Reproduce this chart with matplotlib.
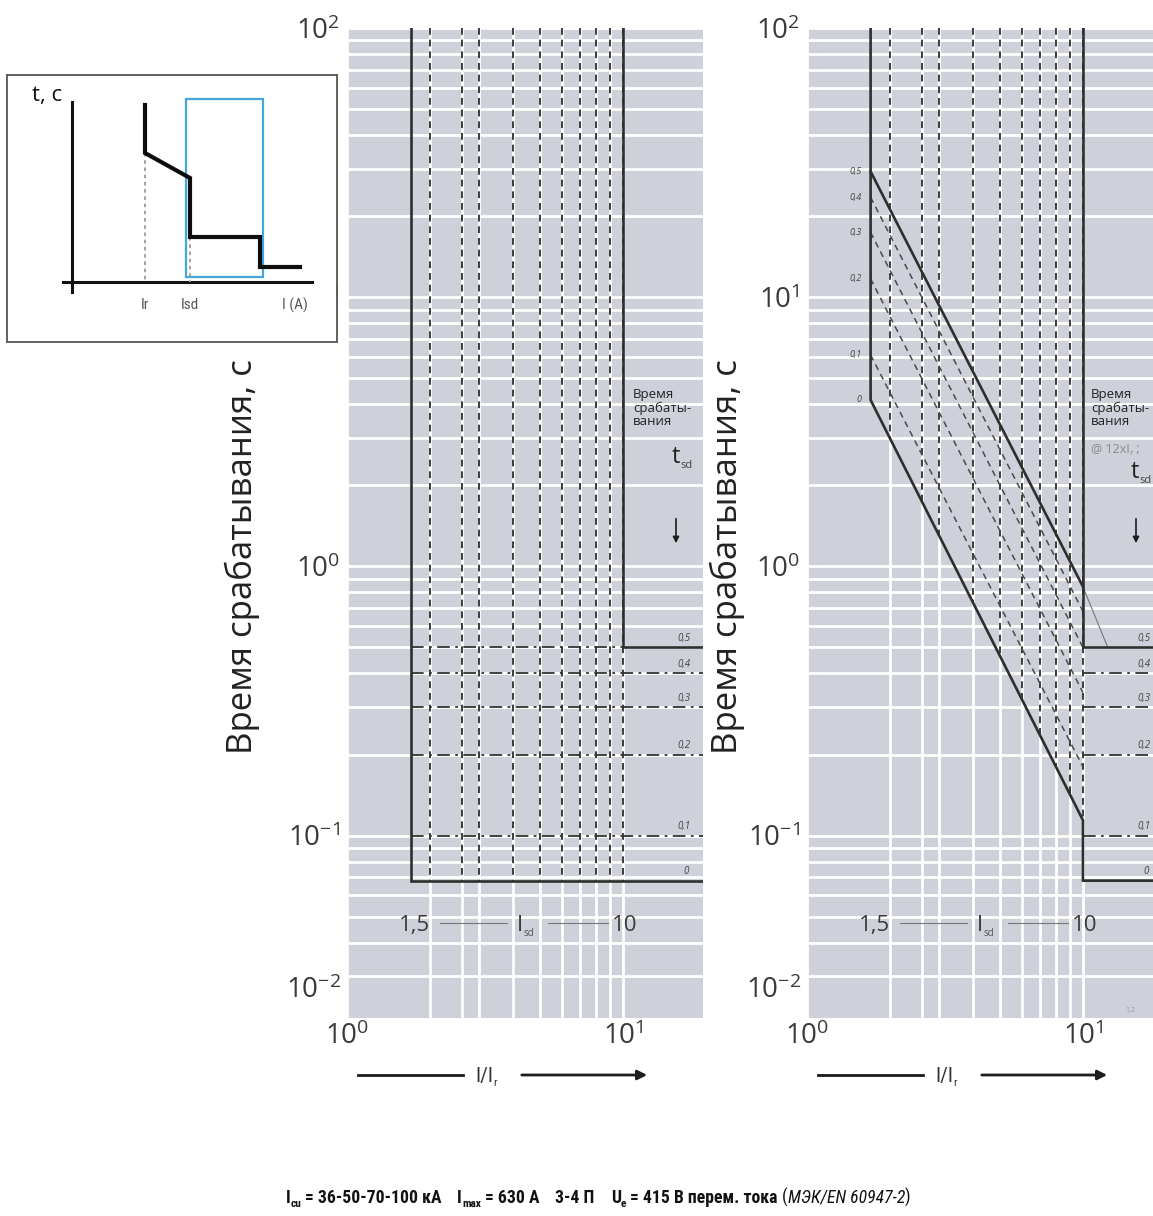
import numpy as np
import matplotlib
matplotlib.use('Agg')
import matplotlib.pyplot as plt
from matplotlib import font_manager as fm
from matplotlib.ticker import FixedLocator, LogLocator, NullFormatter
from matplotlib.patches import Rectangle, FancyArrowPatch
from matplotlib.lines import Line2D

# ---------------- data ----------------
ir_pickup = 1.7                     # minimum Isd position (labelled 1,5)
isd_max = 10.0
isd_settings = [2, 2.6, 3, 4, 5, 6, 7, 8, 9, 10]
tsd_labels = ['0,5', '0,4', '0,3', '0,2', '0,1', '0']
tsd_times = [0.5, 0.4, 0.3, 0.2, 0.1, 0.068]
i2t_start = [29.3, 23.5, 17.4, 11.7, 6.1, 4.15]   # t at Isd min, I2t ON curves
i2t_end = [0.84, 0.68, 0.50, 0.34, 0.18, 0.114]    # t at 10 x Ir
i2t_tail_x = [10, 12.3]
i2t_tail_t = [0.84, 0.5]
y_major = [0.1, 1, 10, 100]
y_major_labels = [r'$10^{-1}$', r'$10^{0}$', r'$10^{1}$', r'$10^{2}$']
x_major = [1, 10]
x_major_labels = [r'$10^{0}$', r'$10^{1}$']

# inset sketch (pixel-like units, y downward)
inset_curve_x = [138, 138, 183, 183, 253, 253, 293]
inset_curve_y = [30, 78, 103, 162, 162, 192, 192]
inset_box = (179, 24, 77, 178)
inset_ir_x, inset_isd_x = 138, 183

# ---------------- setup ----------------
W, H, DPI = 1153, 1216, 100
plt.rcParams['font.family'] = ['Open Sans', 'DejaVu Sans']
plt.rcParams['mathtext.fontset'] = 'custom'
plt.rcParams['mathtext.rm'] = 'Open Sans'
plt.rcParams['mathtext.it'] = 'Open Sans:italic'
plt.rcParams['mathtext.bf'] = 'Open Sans:bold'

ttf = fm.fontManager.ttflist
names = {f.name for f in ttf}
COND = None
for cand in ['Roboto Condensed', 'Open Sans Condensed', 'Liberation Sans Narrow',
             'Noto Sans Condensed']:
    if cand in names:
        COND = dict(family=[cand, 'DejaVu Sans'])
        break
if COND is None:
    if any(f.name == 'Roboto' and 'condensed' in str(f.stretch) for f in ttf):
        COND = dict(family=['Roboto', 'DejaVu Sans'], stretch='condensed')
    elif any(f.name == 'DejaVu Sans' and 'condensed' in str(f.stretch) for f in ttf):
        COND = dict(family=['DejaVu Sans'], stretch='condensed')
    else:
        COND = dict(family=['Roboto', 'DejaVu Sans'])

fig = plt.figure(figsize=(W / DPI, H / DPI), dpi=DPI)
fig.patch.set_facecolor('white')


def fx(px):
    return px / W


def fy(py):
    return 1 - py / H


XMIN, XMAX = 1.0, 19.5
YMIN, YMAX = 0.021, 100
BG = '#cfd1da'
LC = '#2e2e2e'
TICKC = '#3a3a3a'


def style_axes(ax):
    ax.set_xscale('log')
    ax.set_yscale('log')
    ax.set_xlim(XMIN, XMAX)
    ax.set_ylim(YMIN, YMAX)
    ax.set_facecolor(BG)
    for s in ax.spines.values():
        s.set_visible(False)
    ax.xaxis.set_major_locator(FixedLocator(x_major))
    ax.xaxis.set_minor_locator(FixedLocator(isd_settings[:-1]))
    ax.xaxis.set_minor_formatter(NullFormatter())
    ax.set_xticklabels(x_major_labels)
    ax.yaxis.set_major_locator(FixedLocator(y_major))
    ax.yaxis.set_minor_locator(LogLocator(base=10, subs=np.arange(2, 10)))
    ax.yaxis.set_minor_formatter(NullFormatter())
    ax.set_yticklabels(y_major_labels)
    ax.grid(which='both', color='white', lw=2.0)
    ax.set_axisbelow(True)
    ax.tick_params(which='both', length=0, labelsize=20, colors=TICKC)
    ax.tick_params(axis='y', pad=5)
    ax.tick_params(axis='x', pad=3)
    ax.text(-0.016, 0.028, r'$10^{-2}$', transform=ax.transAxes, ha='right',
            va='center', fontsize=20, color=TICKC)


dash_v = dict(color='#3c3c3c', lw=1.4, dashes=(3.5, 2.5))
dash_dot = dict(color='#333333', lw=1.3, dashes=(7, 3, 1.5, 3))
solid = dict(color=LC, lw=1.9, solid_joinstyle='miter')

# ---------------- left panel ----------------
axL = fig.add_axes([fx(347), fy(1018), 356 / W, 990 / H])
style_axes(axL)
for v in isd_settings:
    axL.plot([v, v], [YMAX, tsd_times[-1]], **dash_v)
axL.plot([ir_pickup, isd_max], [tsd_times[0]] * 2, **dash_dot)
for t in tsd_times[1:-1]:
    axL.plot([ir_pickup, XMAX], [t, t], **dash_dot)
axL.plot([ir_pickup, ir_pickup, XMAX], [YMAX, tsd_times[-1], tsd_times[-1]], **solid)
axL.plot([isd_max, isd_max, XMAX], [YMAX, tsd_times[0], tsd_times[0]], **solid)
for lab, t in zip(tsd_labels, tsd_times):
    axL.text(15.8 if lab != '0' else 16.6, t * 1.03, lab, fontsize=7, style='italic',
             color='#444444', va='bottom', ha='left')

# ---------------- right panel ----------------
axR = fig.add_axes([fx(807), fy(1018), 356 / W, 990 / H])
style_axes(axR)
lx = np.log10([ir_pickup, isd_max])
ly = np.log10([i2t_start[-1], i2t_end[-1]])
for v in isd_settings:
    bottom = 10 ** np.interp(np.log10(v), lx, ly)
    axR.plot([v, v], [YMAX, bottom], **dash_v)
for s, e in zip(i2t_start[1:-1], i2t_end[1:-1]):
    axR.plot([ir_pickup, isd_max], [s, e], color='#4a4a4a', lw=1.1, dashes=(4, 3))
for t in tsd_times[1:-1]:
    axR.plot([isd_max, XMAX], [t, t], **dash_dot)
axR.plot(i2t_tail_x, i2t_tail_t, color='#777777', lw=0.8)
axR.plot([ir_pickup, isd_max], [i2t_start[0], i2t_end[0]], **solid)
axR.plot([ir_pickup, ir_pickup, isd_max, isd_max, XMAX],
         [YMAX, i2t_start[-1], i2t_end[-1], tsd_times[-1], tsd_times[-1]], **solid)
axR.plot([isd_max, isd_max, XMAX], [YMAX, tsd_times[0], tsd_times[0]], **solid)
for lab, t in zip(tsd_labels, i2t_start):
    axR.text(1.58, t, lab, fontsize=6.5, style='italic', color='#444444',
             va='center', ha='right')
for lab, t in zip(tsd_labels, tsd_times):
    axR.text(15.8 if lab != '0' else 16.6, t * 1.03, lab, fontsize=7, style='italic',
             color='#444444', va='bottom', ha='left', clip_on=False)

# ---------------- text helpers ----------------
renderer = fig.canvas.get_renderer()


def draw_runs(x_px, y_px, runs, ha='left', fit_width=None):
    """runs: list of (text, kwargs, gap_before_px, dy_px); y_px is baseline."""
    scale = 1.0
    if fit_width is not None:
        tmp = [fig.text(0, 0, s, **kw) for s, kw, _, _ in runs]
        tw = sum(t.get_window_extent(renderer).width for t in tmp)
        tw += sum(g for _, _, g, _ in runs)
        for t in tmp:
            t.remove()
        scale = fit_width / tw
    objs = []
    for s, kw, gap, dy in runs:
        kw = dict(kw)
        kw['fontsize'] = kw.get('fontsize', 10) * scale
        t = fig.text(0, 0, s, va='baseline', ha='left', **kw)
        objs.append((t, gap * scale, dy))
    widths = [t.get_window_extent(renderer).width for t, _, _ in objs]
    total = sum(widths) + sum(g for _, g, _ in objs)
    x0 = x_px - (total / 2 if ha == 'center' else total if ha == 'right' else 0)
    for (t, gap, dy), w in zip(objs, widths):
        x0 += gap
        t.set_position((fx(x0), fy(y_px + dy)))
        x0 += w


def fline(x0, x1, y, **kw):
    fig.add_artist(Line2D([fx(x0), fx(x1)], [fy(y), fy(y)], transform=fig.transFigure, **kw))


def farrow(x0, y0, x1, y1, ms=12, lw=1.6):
    fig.add_artist(FancyArrowPatch(
        (fx(x0), fy(y0)), (fx(x1), fy(y1)), transform=fig.transFigure,
        arrowstyle='-|>', mutation_scale=ms, color='#1e1e1e', lw=lw))


# y labels
for xc in (242, 727):
    fig.text(fx(xc), fy(557), 'Время срабатывания, с', rotation=90, ha='center',
             va='center', fontsize=25, color='#222222')

# "Время срабатывания" notes and t_sd arrows
fig.text(fx(633), fy(388), 'Время\nсрабаты-\nвания', fontsize=9.5, va='top', ha='left',
         color='#222222', linespacing=1.05)
fig.text(fx(1091), fy(388), 'Время\nсрабаты-\nвания', fontsize=9.5, va='top', ha='left',
         color='#222222', linespacing=1.05)
draw_runs(1091, 452, [('@ 12xI', dict(fontsize=9, color='#8a8a8a'), 0, 0),
                      ('r', dict(fontsize=6, color='#8a8a8a'), 0, 3),
                      (' ;', dict(fontsize=9, color='#8a8a8a'), 0, 0)])
for xt, yt in ((672, 463), (1131, 478)):
    draw_runs(xt, yt, [('t', dict(fontsize=17, color='#222222'), 0, 0),
                       ('sd', dict(fontsize=8, color='#444444'), 0, 5)])
farrow(676, 516, 676, 546, ms=9, lw=1.2)
farrow(1136, 516, 1136, 546, ms=9, lw=1.2)

# 1,5 — Isd — 10
for off in (0, 460):
    draw_runs(430 + off, 931, [('1,5', dict(fontsize=16, color='#3a3a3a'), 0, 0)], ha='right')
    fline(440 + off, 507 + off, 923, color='#777777', lw=0.8)
    draw_runs(517 + off, 931, [('I', dict(fontsize=16, color='#3a3a3a'), 0, 0),
                               ('sd', dict(fontsize=7, color='#555555'), 0, 5)])
    fline(548 + off, 608 + off, 923, color='#777777', lw=0.8)
    draw_runs(612 + off, 931, [('10', dict(fontsize=16, color='#3a3a3a'), 0, 0)])

# I/Ir arrows
for off in (0, 460):
    fline(358 + off, 463 + off, 1075, color='#1a1a1a', lw=2.0)
    draw_runs(486 + off, 1082, [('I/I', dict(fontsize=15, color='#333333', **COND), 0, 0),
                                ('r', dict(fontsize=8, color='#333333', **COND), 0, 4)],
              ha='center')
    farrow(519 + off, 1075, 650 + off, 1075, ms=14, lw=2.0)

fig.text(fx(1130), fy(1012), '1,2', fontsize=5, color='#999999', ha='center')

# bottom caption
B = dict(fontsize=14, weight='bold', color='#111111', **COND)
BS = dict(fontsize=9, weight='bold', color='#111111', **COND)
BI = dict(fontsize=14, style='italic', color='#111111', **COND)
BN = dict(fontsize=14, color='#111111', **COND)
draw_runs(598, 1203, [
    ('I', B, 0, 0), ('cu', BS, 0, 4), ('= 36-50-70-100 кА', B, 4, 0),
    ('I', B, 18, 0), ('max', BS, 0, 4), ('= 630 А', B, 4, 0),
    ('3-4 П', B, 18, 0),
    ('U', B, 18, 0), ('e', BS, 0, 4), ('= 415 В перем. тока', B, 4, 0),
    ('(', BN, 5, 0), ('МЭК/EN 60947-2', BI, 0, 0), (')', BN, 0, 0)],
    ha='center', fit_width=625)

# ---------------- inset sketch ----------------
axI = fig.add_axes([fx(7), fy(342), 330 / W, 267 / H])
axI.set_xlim(0, 330)
axI.set_ylim(267, 0)
axI.set_facecolor('white')
axI.set_xticks([])
axI.set_yticks([])
for s in axI.spines.values():
    s.set_color('#555555')
    s.set_linewidth(1.3)
axI.plot([56, 305], [207, 207], color='#111111', lw=2.2)
axI.plot([65, 65], [27, 217], color='#111111', lw=2.2)
axI.add_patch(Rectangle(inset_box[:2], inset_box[2], inset_box[3], fill=False,
                        edgecolor='#45a6da', lw=1.6))
axI.plot([inset_ir_x, inset_ir_x], [inset_curve_y[1], 207], color='#9a9a9a', lw=1.3,
         dashes=(2, 2))
axI.plot([inset_isd_x, inset_isd_x], [inset_curve_y[3], 207], color='#9a9a9a', lw=1.3,
         dashes=(2, 2))
axI.plot(inset_curve_x, inset_curve_y, color='#0d0d0d', lw=3.0, solid_joinstyle='miter')
axI.text(40, 20, 't, c', fontsize=16, ha='center', va='center', color='#111111')
axI.text(inset_ir_x, 230, 'Ir', fontsize=11, ha='center', va='center', color='#555555', **COND)
axI.text(inset_isd_x, 230, 'Isd', fontsize=11, ha='center', va='center', color='#555555', **COND)
axI.text(288, 230, 'I (A)', fontsize=11, ha='center', va='center', color='#555555', **COND)

fig.savefig('out.png', dpi=DPI, facecolor='white')
